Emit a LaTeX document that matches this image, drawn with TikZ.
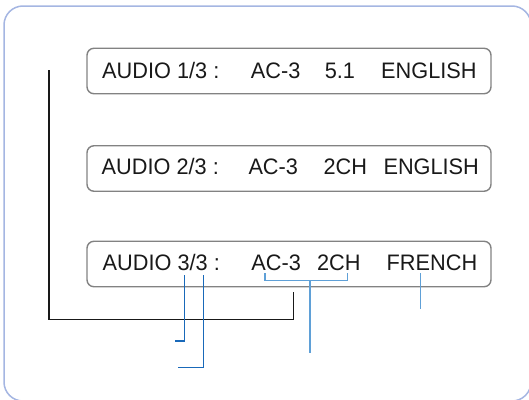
\documentclass[tikz,border=0pt]{standalone}
\usepackage{fontspec}
\setmainfont{Liberation Sans}[FakeStretch=0.97]
\usepackage{tikz}
\definecolor{framesky}{RGB}{165,182,226}
\definecolor{boxgrey}{RGB}{130,130,130}
\definecolor{inkgrey}{RGB}{25,25,25}
\definecolor{leadblue}{RGB}{25,105,185}
\definecolor{bracketblue}{RGB}{95,160,215}

\begin{document}
\begin{tikzpicture}[x=1pt,y=-1pt,
    osdbox/.style={draw=boxgrey,line width=1.4pt,rounded corners=7pt,
      minimum width=404pt,minimum height=45.5pt,inner sep=0pt},
    osdtext/.style={anchor=base west,inner sep=0pt,text=inkgrey,
      font=\fontsize{22.4}{26}\selectfont},
    leader/.style={leadblue,line width=1.1pt},
    bracket/.style={bracketblue,line width=1.1pt}]
    \useasboundingbox (0,0) rectangle (529,399);
    \clip (0,0) rectangle (529,399);

    % Outer panel
    \draw[framesky,line width=1.5pt,rounded corners=19pt] (4,6) rectangle (531,401);

    % OSD lines
    \node[osdbox] (box1) at (289,71) {};
    \node[osdbox] (box2) at (289,168.5) {};
    \node[osdbox] (box3) at (289,264) {};

    \node[osdtext] (aud1) at (102,78.3) {AUDIO 1/3 :};
    \node[osdtext] (codec1) at (250.7,78.3) {AC-3};
    \node[osdtext] (chan1) at (324.6,78.3) {5.1};
    \node[osdtext] (lang1) at (381,78.3) {ENGLISH};

    \node[osdtext] (aud2) at (101.5,174.3) {AUDIO 2/3 :};
    \node[osdtext] (codec2) at (248.3,174.3) {AC-3};
    \node[osdtext] (chan2) at (323.3,174.3) {2CH};
    \node[osdtext] (lang2) at (383.3,174.3) {ENGLISH};

    \node[osdtext] (aud3) at (102.5,270) {AUDIO 3/3 :};
    \node[osdtext] (codec3) at (251.2,270) {AC-3};
    \node[osdtext] (chan3) at (316.8,270) {2CH};
    \node[osdtext] (lang3) at (386.5,270) {FRENCH};

    % Selection marker
    \coordinate (selTop) at (49,70);
    \coordinate (selCorner) at (49,319.5);
    \coordinate (selEnd) at (293.3,292);
    \draw[inkgrey,line width=1.1pt] (selTop) -- (selCorner) -| (selEnd);

    % Callouts
    \coordinate (numA) at (184.3,275);
    \coordinate (numAend) at (175,341);
    \coordinate (numB) at (203.3,275);
    \coordinate (numBend) at (178,367.7);
    \draw[leader] (numA) |- (numAend);
    \draw[leader] (numB) |- (numBend);

    \coordinate (brL) at (265,273.3);
    \coordinate (brR) at (347.3,273.3);
    \coordinate (brMid) at (310,280.7);
    \coordinate (brEnd) at (310,353.3);
    \draw[bracket] (brL) |- (brMid) -| (brR);
    \draw[bracket] (brMid) -- (brEnd);

    \coordinate (langTop) at (420.7,273.3);
    \coordinate (langEnd) at (420.7,309.3);
    \draw[bracket] (langTop) -- (langEnd);
\end{tikzpicture}
\end{document}
